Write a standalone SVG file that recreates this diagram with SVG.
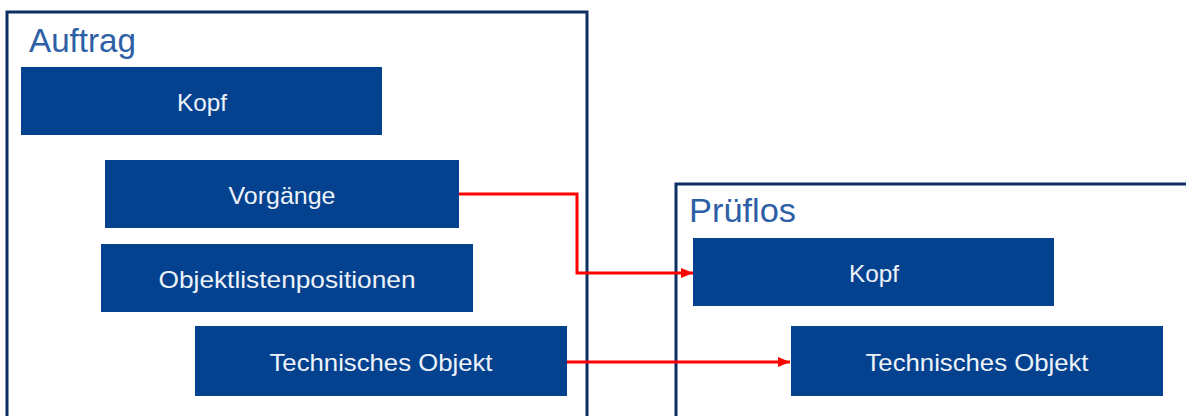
<svg xmlns="http://www.w3.org/2000/svg" width="1186" height="416" viewBox="0 0 1186 416">
  <defs>
    <marker id="arrow" viewBox="0 0 12 10" refX="12" refY="5" markerWidth="12" markerHeight="10" markerUnits="userSpaceOnUse" orient="auto">
      <path d="M0,0 L12,5 L0,10 Z" fill="#ff0000"/>
    </marker>
    <style>
      .frame { fill: none; stroke: #0d2f63; stroke-width: 3; }
      .title { font-family: "Liberation Sans", Arial, sans-serif; font-size: 34px; fill: #2d5fa6; }
      .box { fill: #04428f; }
      .label { font-family: "Liberation Sans", Arial, sans-serif; font-size: 24px; fill: #eef2f9; text-anchor: middle; }
      .link { fill: none; stroke: #ff0000; stroke-width: 3; marker-end: url(#arrow); }
    </style>
  </defs>

  <rect width="1186" height="416" fill="#ffffff"/>

  <!-- Auftrag container -->
  <g id="auftrag">
    <path class="frame" d="M7,418 V12 H587 V418"/>
    <text class="title" x="29" y="52" textLength="107" lengthAdjust="spacingAndGlyphs">Auftrag</text>
  </g>
  <g id="auftrag-kopf">
    <rect class="box" x="21" y="67" width="361" height="68"/>
    <text class="label" x="202" y="111" textLength="50" lengthAdjust="spacingAndGlyphs">Kopf</text>
  </g>
  <g id="auftrag-vorgaenge">
    <rect class="box" x="105" y="160" width="354" height="68"/>
    <text class="label" x="282" y="204" textLength="107" lengthAdjust="spacingAndGlyphs">Vorgänge</text>
  </g>
  <g id="auftrag-objektliste">
    <rect class="box" x="101" y="244" width="372" height="68"/>
    <text class="label" x="287" y="288" textLength="257" lengthAdjust="spacingAndGlyphs">Objektlistenpositionen</text>
  </g>
  <g id="auftrag-technisches-objekt">
    <rect class="box" x="195" y="326" width="372" height="70"/>
    <text class="label" x="381" y="371" textLength="223" lengthAdjust="spacingAndGlyphs">Technisches Objekt</text>
  </g>

  <!-- Prüflos container -->
  <g id="prueflos">
    <path class="frame" d="M676,418 V184 H1190"/>
    <text class="title" x="689" y="222" textLength="107" lengthAdjust="spacingAndGlyphs">Prüflos</text>
  </g>
  <g id="prueflos-kopf">
    <rect class="box" x="693" y="238" width="361" height="68"/>
    <text class="label" x="874" y="282" textLength="50" lengthAdjust="spacingAndGlyphs">Kopf</text>
  </g>
  <g id="prueflos-technisches-objekt">
    <rect class="box" x="791" y="326" width="372" height="70"/>
    <text class="label" x="977" y="371" textLength="223" lengthAdjust="spacingAndGlyphs">Technisches Objekt</text>
  </g>

  <!-- connectors -->
  <g id="connectors">
    <path class="link" d="M459,194 H577 V273 H693"/>
    <path class="link" d="M567,362 H790"/>
  </g>
</svg>
